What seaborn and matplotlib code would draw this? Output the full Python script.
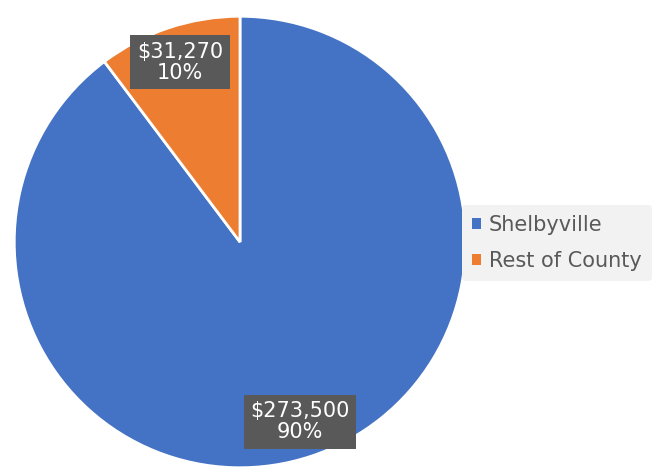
import matplotlib
matplotlib.use("Agg")
import matplotlib.pyplot as plt
from matplotlib.patches import Patch
import seaborn as sns

# data
areas = ["Shelbyville", "Rest of County"]
amounts = [273500, 31270]
slice_colors = ["#4472C4", "#ED7D31"]

sns.set_style("white")
plt.rcParams['font.family'] = ['DejaVu Sans']

fig = plt.figure(figsize=(6.65, 4.72), dpi=100)
ax = fig.add_axes([12 / 665, 2 / 472, 456 / 665, 456 / 472])

total = sum(amounts)


def make_label(pct):
    val = pct * total / 100
    return f"${val:,.0f}\n{pct:.0f}%"


wedges, texts, autotexts = ax.pie(
    amounts,
    colors=slice_colors,
    startangle=90,
    counterclock=False,
    autopct=make_label,
    pctdistance=0.84,
    radius=1,
    wedgeprops=dict(edgecolor="white", linewidth=2),
    textprops=dict(color="white", fontsize=15, ha="center", va="center",
                   linespacing=1.05),
)

for t in autotexts:
    t.set_bbox(dict(facecolor="#595959", edgecolor="none", boxstyle="square,pad=0.32"))

ax.set_xlim(-1.01, 1.01)
ax.set_ylim(-1.01, 1.01)
ax.set_aspect("equal")
ax.axis("off")

# legend squares without the white wedge edge
handles = [Patch(facecolor=c, edgecolor="none") for c in slice_colors]
leg = fig.legend(
    handles, areas,
    loc="center left",
    bbox_to_anchor=(462 / 665, 1 - 243 / 472),
    frameon=True,
    fontsize=15,
    handlelength=0.4,
    handleheight=0.4,
    handletextpad=0.4,
    labelspacing=0.75,
    borderpad=0.5,
    borderaxespad=0,
    labelcolor="#595959",
)
leg.get_frame().set_facecolor("#F2F2F2")
leg.get_frame().set_edgecolor("none")
leg.get_frame().set_alpha(1)
leg.set_zorder(0)

plt.savefig("out.png", dpi=100)
